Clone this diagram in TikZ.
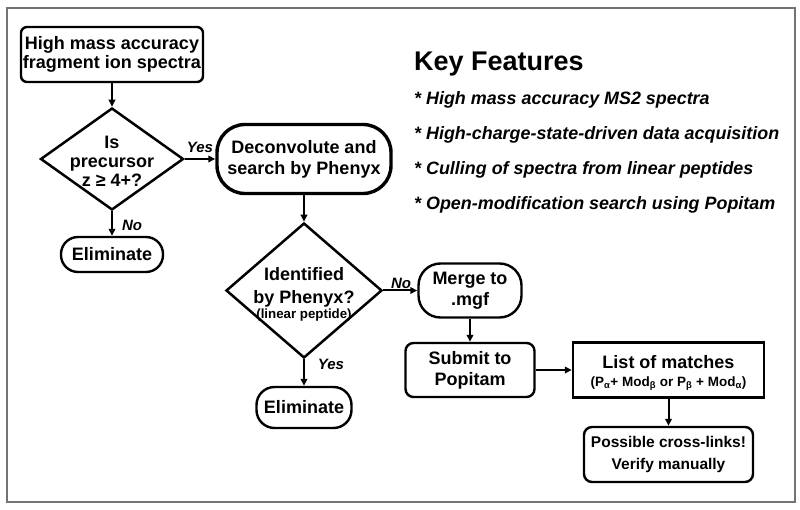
\documentclass[tikz,border=0pt]{standalone}
\usepackage{fontspec}
\setmainfont{Liberation Sans}
\usetikzlibrary{shapes.geometric,arrows.meta}
\begin{document}
\begin{tikzpicture}[x=1pt,y=-1pt,
 box/.style={draw, line width=2.4pt, align=center, inner sep=0pt,
   font=\bfseries\fontsize{18}{21}\selectfont},
 dia/.style={draw, diamond, line width=2.5pt, inner sep=0pt},
 txt/.style={align=center, inner sep=0pt, font=\bfseries\fontsize{18}{19}\selectfont},
 lab/.style={font=\bfseries\itshape\fontsize{15}{15}\selectfont, inner sep=0pt},
 arr/.style={line width=2pt, -{Triangle[length=7pt,width=6.5pt]}},
 feat/.style={anchor=base west, inner sep=0pt, font=\bfseries\itshape\fontsize{17.9}{18}\selectfont},
]
\useasboundingbox (0,0) rectangle (800,510);
\draw[black!55, line width=1.3pt] (7,8) rectangle (795,502);

% left column
\node[box, rounded corners=6pt, minimum width=182pt, minimum height=55pt,
  font=\bfseries\fontsize{18}{19}\selectfont] (b1) at (112,54.5)
  {High mass accuracy\\fragment ion spectra};
\node[dia, minimum width=143pt, minimum height=102pt] (d1) at (112,159) {};
\node[txt] (d1t) at (112,161) {Is\\precursor\\z ≥ 4+?};
\node[box, rounded corners=17pt, minimum width=102pt, minimum height=35pt] (e1) at (112,254.5) {Eliminate};

% middle column
\node[box, line width=3.4pt, rounded corners=28pt, minimum width=174pt, minimum height=69pt] (b2) at (304,159)
  {Deconvolute and\\search by Phenyx};
\node[dia, minimum width=156pt, minimum height=135pt] (d2) at (304,290.5) {};
\node[txt, font=\bfseries\fontsize{18}{23}\selectfont] (d2t) at (304,287) {Identified\\by Phenyx?};
\node[inner sep=0pt, font=\bfseries\fontsize{13.3}{13}\selectfont] (d2s) at (304,315) {(linear peptide)};
\node[box, rounded corners=18pt, minimum width=95pt, minimum height=41pt] (e2) at (304,407.5) {Eliminate};

% right part
\node[box, rounded corners=22pt, minimum width=103pt, minimum height=54pt] (m) at (470,290.5) {Merge to\\.mgf};
\node[box, rounded corners=8pt, minimum width=129pt, minimum height=54pt] (s) at (470,370) {Submit to\\Popitam};
\node[box, minimum width=191pt, minimum height=55pt] (l) at (668.5,370) {};
\node[inner sep=0pt, font=\bfseries\fontsize{18}{18}\selectfont] (lt) at (668.5,362) {List of matches};
\node[inner sep=0pt, font=\bfseries\fontsize{13.5}{14}\selectfont] (ls) at (668.5,384)
  {(P\textsubscript{α}+ Mod\textsubscript{β} or P\textsubscript{β} + Mod\textsubscript{α})};
\node[box, rounded corners=8pt, minimum width=169pt, minimum height=55pt,
  font=\bfseries\fontsize{15.5}{22}\selectfont] (p) at (668.5,454.5) {Possible cross-links!\\Verify manually};

% connectors
\draw[arr] (b1) -- (d1);
\draw[arr] (d1.east) -- (b2.west);
\draw[arr] (d1.south) -- (e1.north);
\draw[arr] (b2) -- (d2);
\draw[arr] (d2.south) -- (e2.north);
\draw[arr] (d2.east) -- (m.west);
\draw[arr] (m) -- (s);
\draw[arr] (s) -- (l);
\draw[arr] (l) -- (p);

% labels
\node[lab] (y1) at (200,147) {Yes};
\node[lab] (n1) at (132,225) {No};
\node[lab] (n2) at (401,283) {No};
\node[lab] (y2) at (331,364) {Yes};

% key features
\node[anchor=base west, inner sep=0pt, font=\bfseries\fontsize{27}{27}\selectfont] (kf) at (414,71) {Key Features};
\node[feat] (f1) at (414,105) {* High mass accuracy MS2 spectra};
\node[feat] (f2) at (414,140) {* High-charge-state-driven data acquisition};
\node[feat] (f3) at (414,175) {* Culling of spectra from linear peptides};
\node[feat] (f4) at (414,210) {* Open-modification search using Popitam};
\end{tikzpicture}
\end{document}
